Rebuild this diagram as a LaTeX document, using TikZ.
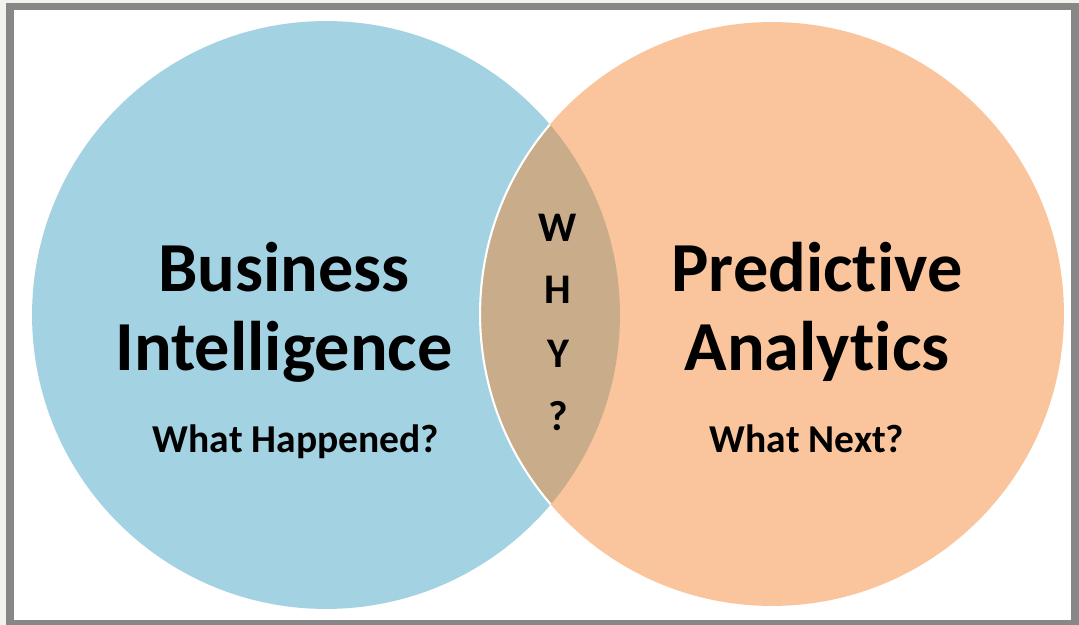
\documentclass[tikz,border=0pt]{standalone}
\usepackage{fontspec}
\setmainfont{Carlito}[Ligatures={NoCommon,NoRequired,NoContextual}]
\usetikzlibrary{positioning}
\definecolor{bicolor}{HTML}{A3D2E2}
\definecolor{pacolor}{HTML}{FAC59C}
\definecolor{whycolor}{HTML}{C9AC89}
\definecolor{framegray}{HTML}{878787}
\definecolor{pagebg}{HTML}{F3F3EE}
\begin{document}
\begin{tikzpicture}[x=0.02cm,y=-0.02cm,
  venn/.style={circle,inner sep=0pt},
  big/.style={font=\fontsize{40}{48}\selectfont\bfseries,anchor=base,inner sep=0pt},
  small/.style={font=\fontsize{22.5}{27}\selectfont\bfseries,anchor=base,inner sep=0pt},
  why/.style={font=\fontsize{24}{28}\selectfont\bfseries,anchor=base,inner sep=0pt}]
  \useasboundingbox[fill=pagebg] (0,0) rectangle (1079,625);
  \draw[framegray,fill=white,line width=4pt] (10,6.5) rectangle (1075,624);
  % the two sets
  \node[venn,fill=bicolor,minimum size=11.76cm] (bi) at (326,315) {};
  \node[venn,fill=pacolor,minimum size=11.68cm] (pa) at (772,314) {};
  % overlap
  \begin{scope}
    \clip (bi.center) circle (5.88cm);
    \fill[whycolor] (pa.center) circle (5.84cm);
    \draw[white,line width=1.2pt] (pa.center) circle (5.84cm);
  \end{scope}
  % labels
  \node[big] (bus) at (284,291) {Business};
  \node[big] (intel) at (284,370) {Intelligence};
  \node[small] (happened) at (296,452) {What Happened?};
  \node[big] (pred) at (817,291) {Predictive};
  \node[big] (anal) at (817,370) {Analytics};
  \node[small] (next) at (807,452) {What Next?};
  \node[why] (w) at (558,241) {W};
  \node[why] (h) at (558,303) {H};
  \node[why] (y) at (558,367) {Y};
  \node[why] (q) at (558,430) {?};
\end{tikzpicture}
\end{document}
